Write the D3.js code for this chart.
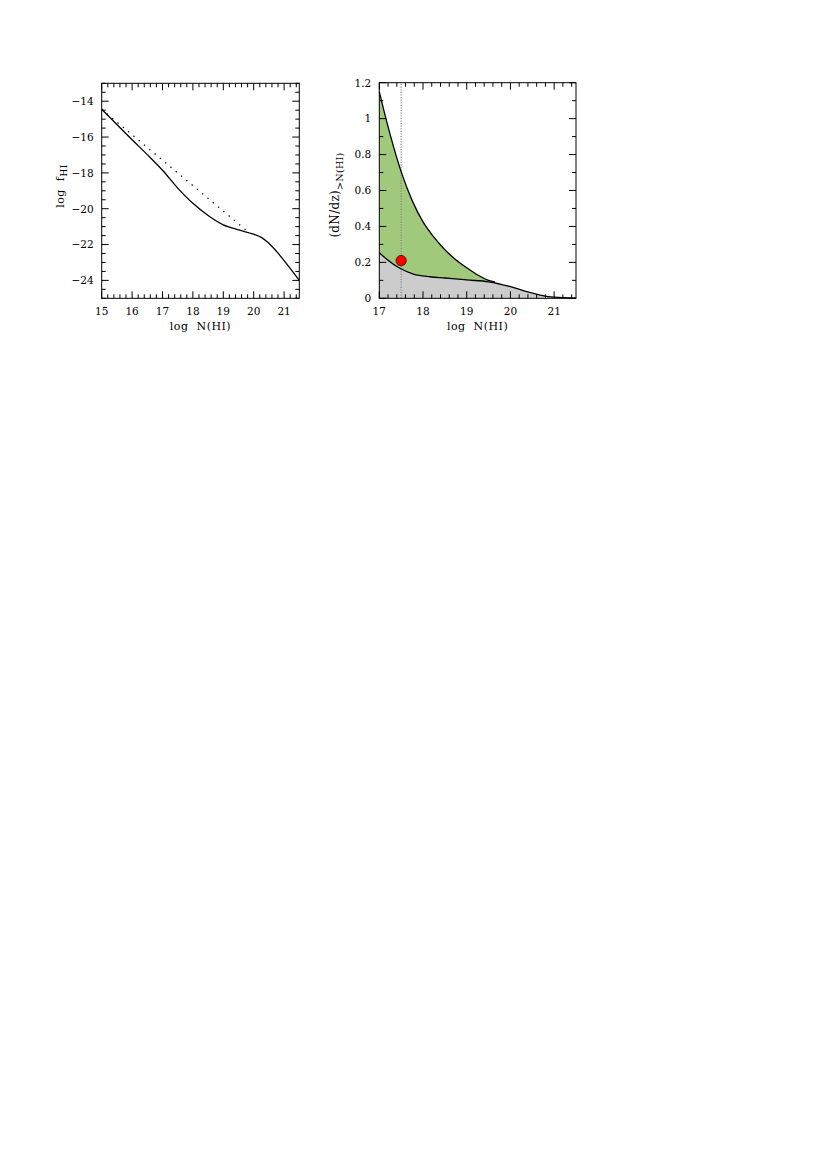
<!DOCTYPE html>
<html><head><meta charset="utf-8">
<script src="https://cdn.jsdelivr.net/npm/d3@7"></script>
<style>body{margin:0;background:#fff;} svg{display:block;} text{font-family:"DejaVu Serif",serif;fill:#000;}</style>
</head><body>
<svg id="c" width="830" height="1174"></svg>
<script>
// ---- Left panel data: log f_HI vs log N(HI)
const fX = [15, 15.5, 16, 16.5, 17, 17.5, 18, 18.5, 19, 19.5, 20, 20.25, 20.5, 20.75, 21, 21.25, 21.5];
const fY = [-14.45, -15.3, -16.15, -16.98, -17.85, -18.85, -19.7, -20.38, -20.9, -21.18, -21.42, -21.6, -21.93, -22.38, -22.9, -23.44, -24.0];
const plX = [15, 19.75];
const plY = [-14.45, -21.2];
const leftXTicks = [15, 16, 17, 18, 19, 20, 21];
const leftYTicks = [-24, -22, -20, -18, -16, -14];

// ---- Right panel data: (dN/dz)_{>N(HI)}
const upX = [17, 17.1, 17.25, 17.5, 17.75, 18, 18.25, 18.5, 18.75, 19, 19.25, 19.5, 19.65];
const upY = [1.15, 1.05, 0.91, 0.705, 0.545, 0.425, 0.34, 0.27, 0.215, 0.17, 0.13, 0.10, 0.09];
const loX = [17, 17.17, 17.47, 17.78, 18.16, 18.5, 19.0, 19.5, 20.0, 20.37, 20.68, 21.0, 21.5];
const loY = [0.254, 0.217, 0.167, 0.135, 0.12, 0.113, 0.102, 0.092, 0.065, 0.037, 0.018, 0.006, 0.001];
const markX = [17.5];
const markY = [0.21];
const rightXTicks = [17, 18, 19, 20, 21];
const rightYTicks = [0, 0.2, 0.4, 0.6, 0.8, 1, 1.2];

const svg = d3.select("#c");
const fmtMinus = v => (v < 0 ? "\u2212" + Math.abs(v) : String(v));
const zip = (a, b) => a.map((v, i) => [v, b[i]]);

function frame(g, x, y, xMinor, yMinor, xMajor, yMajor, yFmt) {
  const [x0, x1] = x.range(), [y0, y1] = y.range();
  const MJ = 7, MN = 4;
  const t = g.append("g").attr("stroke", "#000").attr("stroke-width", 1);
  xMinor.forEach(v => {
    const L = xMajor.includes(v) ? MJ : MN, px = x(v);
    t.append("line").attr("x1", px).attr("x2", px).attr("y1", y0).attr("y2", y0 - L);
    t.append("line").attr("x1", px).attr("x2", px).attr("y1", y1).attr("y2", y1 + L);
  });
  yMinor.forEach(v => {
    const L = yMajor.includes(v) ? MJ : MN, py = y(v);
    t.append("line").attr("x1", x0).attr("x2", x0 + L).attr("y1", py).attr("y2", py);
    t.append("line").attr("x1", x1).attr("x2", x1 - L).attr("y1", py).attr("y2", py);
  });
  g.append("rect").attr("x", x0).attr("y", y1).attr("width", x1 - x0).attr("height", y0 - y1)
    .attr("fill", "none").attr("stroke", "#000").attr("stroke-width", 1);
  xMajor.forEach(v => g.append("text").attr("x", x(v)).attr("y", y0 + 17)
    .attr("text-anchor", "middle").attr("font-size", 10.5).text(v));
  yMajor.forEach(v => g.append("text").attr("x", x0 - 8).attr("y", y(v) + 3.8)
    .attr("text-anchor", "end").attr("font-size", 10.5).text(yFmt(v)));
}
const rangeStep = (a, b, s) => d3.range(Math.round((b - a) / s) + 1).map(i => +(a + i * s).toFixed(4));

// ---------- Left panel
{
  const x = d3.scaleLinear().domain([15, 21.5]).range([101.7, 299.3]);
  const y = d3.scaleLinear().domain([-25, -13]).range([298.3, 83.3]);
  const g = svg.append("g");
  const line = d3.line().x(d => x(d[0])).y(d => y(d[1])).curve(d3.curveCatmullRom.alpha(0.5));
  g.append("path").attr("d", line(zip(fX, fY))).attr("fill", "none").attr("stroke", "#000").attr("stroke-width", 1.3);
  g.append("path").attr("d", d3.line().x(d => x(d[0])).y(d => y(d[1]))(zip(plX, plY)))
    .attr("fill", "none").attr("stroke", "#000").attr("stroke-width", 1.3)
    .attr("stroke-dasharray", "1.3,5.6").attr("stroke-linecap", "butt");
  frame(g, x, y, rangeStep(15, 21.4, 0.2), rangeStep(-25, -13, 0.5), leftXTicks, leftYTicks, fmtMinus);
  g.append("text").attr("x", 200.5).attr("y", 330).attr("text-anchor", "middle")
    .attr("font-size", 11).attr("letter-spacing", 0.5).text("log\u00a0\u00a0N(HI)");
  const yl = g.append("text").attr("transform", "translate(64,186) rotate(-90)").attr("text-anchor", "middle")
    .attr("font-size", 11).attr("letter-spacing", 0.5);
  yl.append("tspan").text("log\u00a0\u00a0f");
  yl.append("tspan").attr("font-size", 9).attr("dy", 3).text("HI");
}

// ---------- Right panel
{
  const x = d3.scaleLinear().domain([17, 21.5]).range([379.3, 576]);
  const y = d3.scaleLinear().domain([0, 1.2]).range([298.3, 82.7]);
  const g = svg.append("g");
  const area = d3.area().x(d => x(d[0])).y0(y(0)).y1(d => y(d[1])).curve(d3.curveMonotoneX);
  const line = d3.line().x(d => x(d[0])).y(d => y(d[1])).curve(d3.curveMonotoneX);
  g.append("path").attr("d", area(zip(upX, upY))).attr("fill", "#a0c97b");
  g.append("path").attr("d", area(zip(loX, loY))).attr("fill", "#cccccc");
  g.append("line").attr("x1", x(markX[0])).attr("x2", x(markX[0])).attr("y1", y(0)).attr("y2", y(1.2))
    .attr("stroke", "#888").attr("stroke-width", 1.3).attr("stroke-dasharray", "1.1,1.5");
  g.append("path").attr("d", line(zip(upX, upY))).attr("fill", "none").attr("stroke", "#000").attr("stroke-width", 1.3);
  g.append("path").attr("d", line(zip(loX, loY))).attr("fill", "none").attr("stroke", "#000").attr("stroke-width", 1.3);
  g.selectAll("circle.m").data(zip(markX, markY)).enter().append("circle")
    .attr("cx", d => x(d[0])).attr("cy", d => y(d[1])).attr("r", 5.2)
    .attr("fill", "#ff0000").attr("stroke", "#000").attr("stroke-width", 0.6);
  frame(g, x, y, rangeStep(17, 21.4, 0.2), rangeStep(0, 1.2, 0.1), rightXTicks, rightYTicks, v => String(v));
  g.append("text").attr("x", 477.6).attr("y", 330).attr("text-anchor", "middle")
    .attr("font-size", 11).attr("letter-spacing", 0.5).text("log\u00a0\u00a0N(HI)");
  const yl = g.append("text").attr("transform", "translate(339,195) rotate(-90)").attr("text-anchor", "middle")
    .attr("font-size", 12).attr("letter-spacing", 0.3);
  yl.append("tspan").text("(dN/dz)");
  yl.append("tspan").attr("font-size", 9.5).attr("dy", 3.5).text(">N(HI)");
}
</script>
</body></html>
